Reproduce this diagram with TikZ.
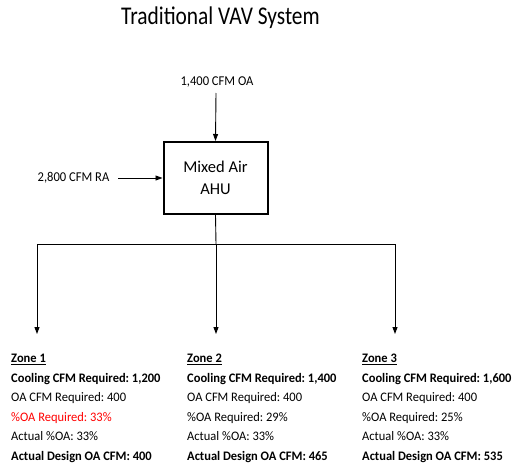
\documentclass[tikz,border=0pt]{standalone}
\usepackage{fontspec}
\setmainfont{Carlito}
\newfontfamily\titlefont[FakeStretch=0.84]{Carlito}
\newfontfamily\lblfont[FakeStretch=0.93]{Carlito}
\newfontfamily\zonefont[FakeStretch=0.96]{Carlito}
\frenchspacing
\usetikzlibrary{arrows.meta}
\begin{document}
\begin{tikzpicture}[x=1pt,y=-1pt,
  arr/.style={-{Triangle[length=7pt,width=5pt]},line width=0.9pt},
  ln/.style={line width=0.9pt},
  lbl/.style={inner sep=0pt,font=\lblfont\fontsize{13.5}{14}\selectfont},
  zone/.style={inner sep=0pt,anchor=north west,align=left,font=\zonefont\frenchspacing\fontsize{13}{19.5}\selectfont}]
\useasboundingbox (0,0) rectangle (517,466);
\node[inner sep=0pt,anchor=base,font=\titlefont\fontsize{25.5}{28}\selectfont] (title) at (220.5,24.5) {Traditional VAV System};
\node[draw,line width=2pt,minimum width=104pt,minimum height=72pt,align=center,inner sep=0pt,font=\fontsize{16.5}{22}\selectfont] (ahu) at (215.5,178) {Mixed Air\\AHU};
\node[lbl] (oa) at (217,82) {1,400 CFM OA};
\node[lbl] (ra) at (73.5,178) {2,800 CFM RA};
\coordinate (oaS) at (216,93);
\coordinate (raS) at (118,178);
\draw[arr] (oaS) -- (ahu.north);
\draw[arr] (raS) -- (ahu.west);
\coordinate (j) at (216,244);
\coordinate (l) at (37,244);
\coordinate (r) at (395,244);
\coordinate (e1) at (37,334);
\coordinate (e2) at (216,334);
\coordinate (e3) at (395,334);
\draw[ln] (ahu.south) -- (j);
\draw[ln] (l) -- (r);
\draw[arr] (l) -- (e1);
\draw[arr] (j) -- (e2);
\draw[arr] (r) -- (e3);
\node[zone] (z1) at (11,354) {\textbf{\underline{Zone 1}}\\\textbf{Cooling CFM Required: 1,200}\\OA CFM Required: 400\\\textcolor{red}{\%OA Required: 33\%}\\Actual \%OA: 33\%\\\textbf{Actual Design OA CFM: 400}};
\node[zone] (z2) at (187,354) {\textbf{\underline{Zone 2}}\\\textbf{Cooling CFM Required: 1,400}\\OA CFM Required: 400\\\%OA Required: 29\%\\Actual \%OA: 33\%\\\textbf{Actual Design OA CFM: 465}};
\node[zone] (z3) at (362,354) {\textbf{\underline{Zone 3}}\\\textbf{Cooling CFM Required: 1,600}\\OA CFM Required: 400\\\%OA Required: 25\%\\Actual \%OA: 33\%\\\textbf{Actual Design OA CFM: 535}};
\end{tikzpicture}
\end{document}
